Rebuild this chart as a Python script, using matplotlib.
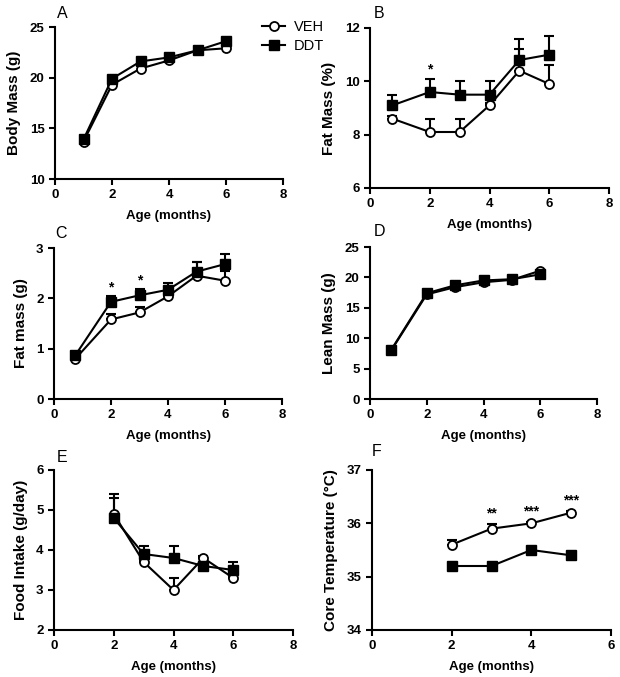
import matplotlib
matplotlib.use("Agg")
import matplotlib.pyplot as plt
import numpy as np

plt.rcParams['font.family'] = ['Liberation Sans', 'DejaVu Sans']

# ---- data ----
x_A = [1, 2, 3, 4, 5, 6]
veh_A = [13.7, 19.3, 20.9, 21.7, 22.7, 22.9]
ddt_A = [13.9, 19.9, 21.6, 22.0, 22.7, 23.6]

x_B = [0.75, 2, 3, 4, 5, 6]
veh_B = [8.6, 8.1, 8.1, 9.1, 10.4, 9.9]
veh_B_err = [0.1, 0.5, 0.5, 0.1, 0.8, 0.7]
ddt_B = [9.1, 9.6, 9.5, 9.5, 10.8, 11.0]
ddt_B_err = [0.4, 0.5, 0.5, 0.5, 0.8, 0.7]

x_C = [0.75, 2, 3, 4, 5, 6]
veh_C = [0.80, 1.58, 1.72, 2.04, 2.45, 2.35]
veh_C_err = [0.03, 0.1, 0.1, 0.05, 0.28, 0.2]
ddt_C = [0.87, 1.93, 2.06, 2.17, 2.53, 2.68]
ddt_C_err = [0.05, 0.11, 0.12, 0.14, 0.2, 0.2]

x_D = [0.75, 2, 3, 4, 5, 6]
veh_D = [8.0, 17.2, 18.4, 19.2, 19.6, 21.1]
ddt_D = [8.1, 17.4, 18.7, 19.5, 19.7, 20.5]

x_E = [2, 3, 4, 5, 6]
veh_E = [4.9, 3.7, 3.0, 3.8, 3.3]
veh_E_err = [0.5, 0.05, 0.3, 0.05, 0.05]
ddt_E = [4.8, 3.9, 3.8, 3.6, 3.5]
ddt_E_err = [0.5, 0.2, 0.3, 0.1, 0.2]

x_F = [2, 3, 4, 5]
veh_F = [35.6, 35.9, 36.0, 36.2]
veh_F_err = [0.08, 0.08, 0.03, 0.03]
ddt_F = [35.2, 35.2, 35.5, 35.4]
ddt_F_err = [0.06, 0.06, 0.03, 0.03]

W, H = 620, 677
fig = plt.figure(figsize=(W / 100, H / 100), dpi=100)


def add_ax(left, right, top, bottom):
    return fig.add_axes([left / W, 1 - bottom / H, (right - left) / W, (bottom - top) / H])


def style(ax, xlim, xticks, ylim, yticks, ylabel, letter, lpos):
    ax.set_xlim(*xlim)
    ax.set_ylim(*ylim)
    ax.set_xticks(xticks)
    ax.set_yticks(yticks)
    for s in ['top', 'right']:
        ax.spines[s].set_visible(False)
    for s in ['left', 'bottom']:
        ax.spines[s].set_linewidth(1.5)
    ax.tick_params(width=1.5, length=4, labelsize=9.5)
    for lab in ax.get_xticklabels() + ax.get_yticklabels():
        lab.set_fontweight('bold')
    ax.set_xlabel('Age (months)', fontsize=9.5, fontweight='bold', labelpad=6)
    ax.set_ylabel(ylabel, fontsize=11, fontweight='bold', labelpad=6)
    fig.text(lpos[0] / W, 1 - lpos[1] / H, letter, fontsize=11.5, ha='left', va='center')


def plot_pair(ax, x, veh, ddt, veh_err=None, ddt_err=None):
    kw = dict(color='black', lw=1.5, capsize=3.5, capthick=1.5, elinewidth=1.5)
    if ddt_err is not None:
        ax.errorbar(x, ddt, yerr=[np.zeros(len(x)), ddt_err], fmt='none', zorder=2, **kw)
    if veh_err is not None:
        ax.errorbar(x, veh, yerr=[np.zeros(len(x)), veh_err], fmt='none', zorder=2, **kw)
    lv, = ax.plot(x, veh, '-o', color='black', mfc='white', mec='black', mew=1.3,
                  ms=6.5, lw=1.5, zorder=3, label='VEH')
    ld, = ax.plot(x, ddt, '-s', color='black', mfc='black', mec='black',
                  ms=7, lw=1.5, zorder=4, label='DDT')
    return lv, ld


# A
axA = add_ax(55, 283, 27, 179)
lv, ld = plot_pair(axA, x_A, veh_A, ddt_A)
style(axA, (0, 8), [0, 2, 4, 6, 8], (10, 25), [10, 15, 20, 25], 'Body Mass (g)', 'A', (57, 13))
fig.legend([lv, ld], ['VEH', 'DDT'], loc='upper left', bbox_to_anchor=(262 / W, 1 - 20 / H),
           frameon=False, fontsize=10.5, handlelength=1.6, handletextpad=0.6, labelspacing=0.35,
           borderpad=0, borderaxespad=0)

# B
axB = add_ax(370, 609, 28, 188)
plot_pair(axB, x_B, veh_B, ddt_B, veh_B_err, ddt_B_err)
style(axB, (0, 8), [0, 2, 4, 6, 8], (6, 12), [6, 8, 10, 12], 'Fat Mass (%)', 'B', (374, 13))
axB.text(2, 10.2, '*', ha='center', va='bottom', fontsize=10, fontweight='bold')

# C
axC = add_ax(54, 282, 248, 399)
plot_pair(axC, x_C, veh_C, ddt_C, veh_C_err, ddt_C_err)
style(axC, (0, 8), [0, 2, 4, 6, 8], (0, 3), [0, 1, 2, 3], 'Fat mass (g)', 'C', (55, 233))
axC.text(2, 2.07, '*', ha='center', va='bottom', fontsize=10, fontweight='bold')
axC.text(3, 2.21, '*', ha='center', va='bottom', fontsize=10, fontweight='bold')

# D
axD = add_ax(370, 597, 247, 399)
plot_pair(axD, x_D, veh_D, ddt_D)
style(axD, (0, 8), [0, 2, 4, 6, 8], (0, 25), [0, 5, 10, 15, 20, 25], 'Lean Mass (g)', 'D', (374, 232))

# E
axE = add_ax(54, 293, 470, 630)
plot_pair(axE, x_E, veh_E, ddt_E, veh_E_err, ddt_E_err)
style(axE, (0, 8), [0, 2, 4, 6, 8], (2, 6), [2, 3, 4, 5, 6], 'Food Intake (g/day)', 'E', (57, 457))

# F
axF = add_ax(372, 611, 470, 630)
plot_pair(axF, x_F, veh_F, ddt_F, veh_F_err, ddt_F_err)
style(axF, (0, 6), [0, 2, 4, 6], (34, 37), [34, 35, 36, 37], 'Core Temperature (°C)', 'F', (372, 452))
for xi, yi, s in [(3, 36.05, '**'), (4, 36.1, '***'), (5, 36.3, '***')]:
    axF.text(xi, yi, s, ha='center', va='bottom', fontsize=10, fontweight='bold')

fig.savefig('out.png', dpi=100)
